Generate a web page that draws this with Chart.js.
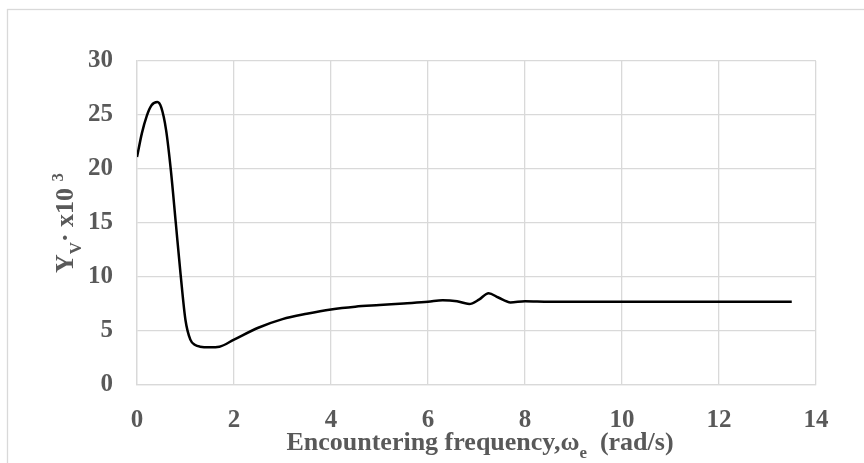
<!DOCTYPE html>
<html>
<head>
<meta charset="utf-8">
<script src="https://cdn.jsdelivr.net/npm/chart.js@4.4.1/dist/chart.umd.min.js"></script>
<style>
  html, body { margin: 0; padding: 0; background: #fff; }
  #wrap { width: 864px; height: 463px; position: relative; }
</style>
</head>
<body>
<div id="wrap"><canvas id="grafico"></canvas></div>
<script>
// frecuencia de encuentro (rad/s)
const freq = [0, 0.1, 0.2, 0.3, 0.42, 0.5, 0.6, 0.7, 0.8, 0.9, 1.0, 1.1, 1.2, 1.3, 1.5, 1.7,
  2.0, 2.5, 3.0, 3.5, 4.0, 4.5, 5.0, 5.5, 6.0, 6.3, 6.6, 6.85, 7.05, 7.25, 7.45, 7.7, 8.0,
  8.5, 9, 10, 11, 12, 13, 13.5];
// Yv x10^3
const yv = [21.1, 23.3, 24.9, 25.9, 26.2, 25.7, 23.6, 19.8, 15.0, 10.2, 6.0, 4.2, 3.7, 3.55, 3.5, 3.55,
  4.2, 5.3, 6.1, 6.6, 7.0, 7.25, 7.4, 7.55, 7.7, 7.85, 7.75, 7.5, 7.9, 8.5, 8.1, 7.65, 7.75,
  7.7, 7.7, 7.7, 7.7, 7.7, 7.7, 7.7];
const xTicks = [0, 2, 4, 6, 8, 10, 12, 14];
const yTicks = [0, 5, 10, 15, 20, 25, 30];

const fuente = "'Liberation Serif', 'Times New Roman', serif";
const gris = "#595959";

// dibuja textos con subindices / superindices
function dibujaPartes(ctx, partes, size) {
  let total = 0;
  partes.forEach(function (p) {
    ctx.font = "bold " + (p.s ? size * 0.65 : size) + "px " + fuente;
    p.w = ctx.measureText(p.t).width;
    total += p.w;
  });
  let x = -total / 2;
  partes.forEach(function (p) {
    ctx.font = "bold " + (p.s ? size * 0.65 : size) + "px " + fuente;
    ctx.fillText(p.t, x, p.s === "sub" ? size * 0.3 : (p.s === "sup" ? -size * 0.4 : 0));
    x += p.w;
  });
}

const titulos = {
  id: "titulos",
  beforeDraw: function (chart) {
    const ctx = chart.ctx;
    ctx.save();
    ctx.strokeStyle = "#d9d9d9";
    ctx.lineWidth = 1.3;
    ctx.strokeRect(7.5, 9.5, 900, 470);
    ctx.restore();
  },
  afterDraw: function (chart) {
    const ctx = chart.ctx;
    ctx.save();
    ctx.fillStyle = gris;
    ctx.textBaseline = "alphabetic";
    ctx.textAlign = "left";
    ctx.translate(480, 450);
    dibujaPartes(ctx, [
      { t: "Encountering frequency,ω" },
      { t: "e", s: "sub" },
      { t: "  (rad/s)" }
    ], 26);
    ctx.restore();

    ctx.save();
    ctx.fillStyle = gris;
    ctx.textAlign = "left";
    ctx.translate(73, 223);
    ctx.rotate(-Math.PI / 2);
    dibujaPartes(ctx, [
      { t: "Y" },
      { t: "V", s: "sub" },
      { t: "· x10 " },
      { t: "3", s: "sup" }
    ], 26);
    ctx.restore();
  }
};

const ctx = document.getElementById("grafico").getContext("2d");
const chart = new Chart(ctx, {
  type: "line",
  data: {
    datasets: [{
      data: freq.map(function (f, i) { return { x: f, y: yv[i] }; }),
      borderColor: "#000",
      borderWidth: 2.5,
      pointRadius: 0,
      fill: false,
      cubicInterpolationMode: "monotone"
    }]
  },
  options: {
    responsive: true,
    maintainAspectRatio: false,
    animation: false,
    layout: { padding: { top: 61, right: 48, left: 0, bottom: 0 } },
    plugins: { legend: { display: false }, tooltip: { enabled: false } },
    scales: {
      x: {
        type: "linear",
        min: 0, max: 14,
        afterBuildTicks: function (s) { s.ticks = xTicks.map(function (v) { return { value: v }; }); },
        afterFit: function (s) { s.height = 463 - 385; },
        grid: { color: "#d9d9d9", lineWidth: 1.3, drawTicks: false },
        border: { color: "#d9d9d9", width: 1.3 },
        ticks: { color: gris, padding: 21, font: { family: fuente, size: 25, weight: "bold" }, maxRotation: 0 }
      },
      y: {
        min: 0, max: 30,
        afterBuildTicks: function (s) { s.ticks = yTicks.map(function (v) { return { value: v }; }); },
        afterFit: function (s) { s.width = 137; },
        grid: { color: "#d9d9d9", lineWidth: 1.3, drawTicks: false },
        border: { color: "#d9d9d9", width: 1.3 },
        ticks: { color: gris, padding: 24, font: { family: fuente, size: 25, weight: "bold" } }
      }
    }
  },
  plugins: [titulos]
});
</script>
</body>
</html>
